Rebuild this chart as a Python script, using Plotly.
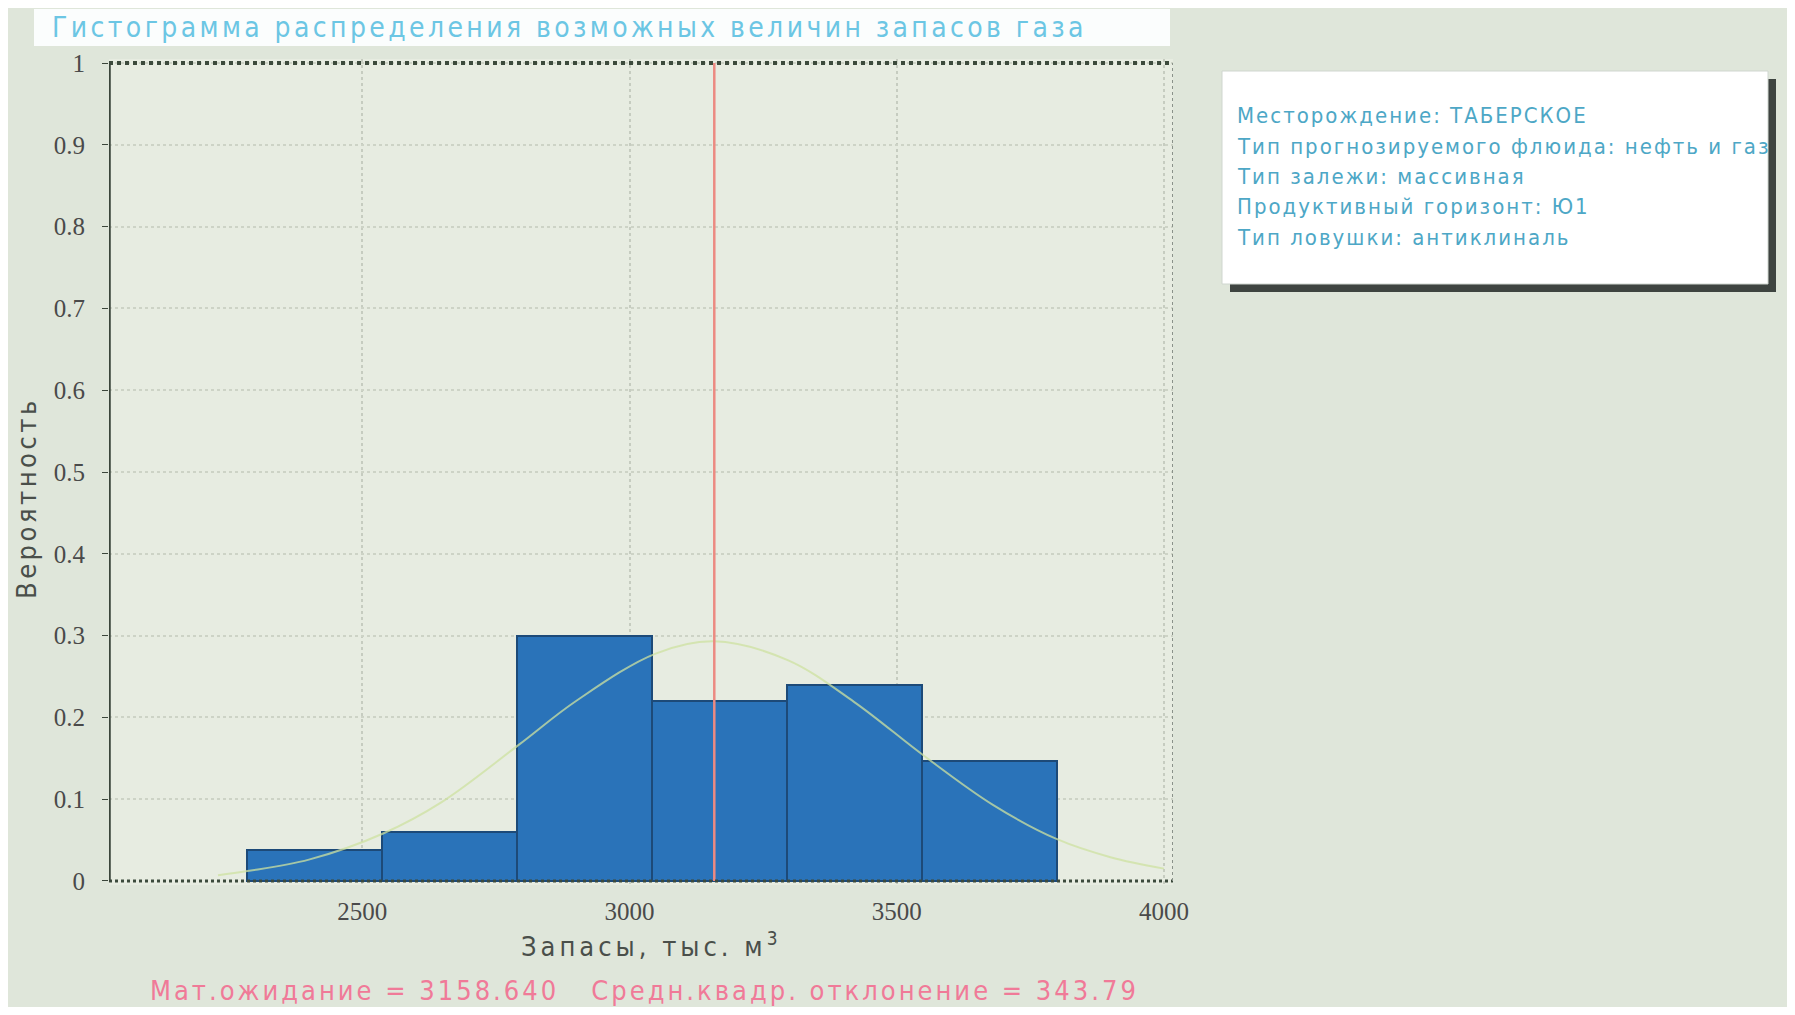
import plotly.graph_objects as go

# ---------------- data ----------------
bin_edges = [2285, 2537, 2790, 3042, 3295, 3547, 3800]
probabilities = [0.038, 0.060, 0.300, 0.220, 0.240, 0.147]

curve_x = [2230, 2285, 2400, 2539, 2650, 2792, 2900, 3049, 3158, 3296, 3420, 3551, 3680, 3800, 3900, 4000]
curve_y = [0.007, 0.012, 0.026, 0.058, 0.097, 0.166, 0.220, 0.278, 0.293, 0.270, 0.219, 0.153, 0.093, 0.051, 0.029, 0.015]

mean_value = 3158.640
std_value = 343.79

x_ticks = [2500, 3000, 3500, 4000]
y_ticks = [0, 0.1, 0.2, 0.3, 0.4, 0.5, 0.6, 0.7, 0.8, 0.9, 1]
y_tick_labels = ["0", "0.1", "0.2", "0.3", "0.4", "0.5", "0.6", "0.7", "0.8", "0.9", "1"]

title_text = "Гистограмма распределения возможных величин запасов газа"
info_lines = [
    "Месторождение: ТАБЕРСКОЕ",
    "Тип прогнозируемого флюида: нефть и газ",
    "Тип залежи: массивная",
    "Продуктивный горизонт: Ю1",
    "Тип ловушки: антиклиналь",
]
x_title = "Запасы, тыс. м<sup>3</sup>"
y_title = "Вероятность"
stats_text = f"Мат.ожидание = {mean_value:.3f}   Средн.квадр. отклонение = {std_value:.2f}"

# ---------------- layout geometry (screen pixels, page has 8px body margin) ----------------
OFF = 8
W, H = 1795 - 2 * OFF, 1015 - 2 * OFF
ML = 109 - OFF
PW = 1064
MR = W - ML - PW
MT = 59 - OFF
PH = 826
MB = H - MT - PH


def px(xs):
    return (xs - OFF - ML) / PW


def py(ys):
    return 1 - (ys - OFF - MT) / PH


def spaced(text, sp):
    return f'<span style="letter-spacing:{sp}px">{text}</span>'


centers = [(a + b) / 2 for a, b in zip(bin_edges[:-1], bin_edges[1:])]
widths = [b - a for a, b in zip(bin_edges[:-1], bin_edges[1:])]

fig = go.Figure()
fig.add_trace(go.Bar(
    x=centers, y=probabilities, width=widths,
    marker=dict(color="#2a73b9", line=dict(color="#1d4a78", width=2)),
    showlegend=False, hoverinfo="skip",
))
fig.add_trace(go.Scatter(
    x=curve_x, y=curve_y, mode="lines", line=dict(color="rgba(205,225,160,0.75)", width=2, shape="spline"),
    showlegend=False, hoverinfo="skip",
))
fig.add_trace(go.Scatter(
    x=[mean_value, mean_value], y=[0, 1], mode="lines",
    line=dict(color="#ec8a82", width=2.5), showlegend=False, hoverinfo="skip",
))

shapes = []
shapes.append(dict(type="line", xref="x", yref="y", x0=2026, x1=4017, y0=1, y1=1,
                   line=dict(color="#3c4a3c", width=4, dash="dot")))
shapes.append(dict(type="line", xref="x", yref="y", x0=2026, x1=4017, y0=0, y1=0,
                   line=dict(color="#3c4a3c", width=3, dash="dot")))
shapes.append(dict(type="line", xref="x", yref="y", x0=2026, x1=2026, y0=0, y1=1,
                   line=dict(color="#3a453a", width=3.5)))
shapes.append(dict(type="line", xref="x", yref="y", x0=4017, x1=4017, y0=0, y1=1,
                   line=dict(color="#8a928a", width=2, dash="dot")))
# title box
shapes.append(dict(type="rect", xref="paper", yref="paper", x0=px(34), x1=px(1170), y0=py(46), y1=py(9),
                   fillcolor="#fbfdfd", line=dict(width=0), layer="below"))
# info box shadow + box
shapes.append(dict(type="rect", xref="paper", yref="paper", x0=px(1230), x1=px(1776), y0=py(292), y1=py(79),
                   fillcolor="#3e4440", line=dict(width=0), layer="below"))
shapes.append(dict(type="rect", xref="paper", yref="paper", x0=px(1222), x1=px(1768), y0=py(284), y1=py(71),
                   fillcolor="#ffffff", line=dict(color="#cfd6cf", width=1), layer="below"))

annotations = []
annotations.append(dict(text=spaced(title_text, 3.4), xref="paper", yref="paper", x=px(50), y=py(28),
                        xanchor="left", yanchor="middle", showarrow=False,
                        font=dict(family="DejaVu Sans Condensed, DejaVu Sans", size=28, color="#6cc6e4")))
for i, line in enumerate(info_lines):
    annotations.append(dict(text=spaced(line, 2.0), xref="paper", yref="paper", x=px(1235), y=py(116 + 30.3 * i),
                            xanchor="left", yanchor="middle", showarrow=False,
                            font=dict(family="DejaVu Sans Condensed, DejaVu Sans", size=22, color="#4da7c6")))
annotations.append(dict(text=spaced(stats_text, 3.0), xref="paper", yref="paper", x=px(644), y=py(990),
                        xanchor="center", yanchor="middle", showarrow=False,
                        font=dict(family="DejaVu Sans Condensed, DejaVu Sans", size=27, color="#f07a98")))
annotations.append(dict(text=spaced(x_title, 4), xref="paper", yref="paper", x=px(651), y=py(944),
                        xanchor="center", yanchor="middle", showarrow=False,
                        font=dict(family="DejaVu Sans Condensed, DejaVu Sans", size=27, color="#4a4f4a")))
annotations.append(dict(text=spaced(y_title, 3.5), xref="paper", yref="paper", x=px(26), y=py(498),
                        xanchor="center", yanchor="middle", showarrow=False, textangle=-90,
                        font=dict(family="DejaVu Sans Condensed, DejaVu Sans", size=27, color="#4a4f4a")))

fig.update_layout(
    width=W, height=H,
    margin=dict(l=ML, r=MR, t=MT, b=MB, pad=0),
    paper_bgcolor="#dfe6da",
    plot_bgcolor="#e7ece1",
    shapes=shapes,
    annotations=annotations,
    bargap=0,
    xaxis=dict(range=[2026, 4017], tickvals=x_ticks, ticktext=[str(v) for v in x_ticks],
               showgrid=True, gridcolor="#c6ccc0", griddash="dot", gridwidth=1.5,
               zeroline=False, showline=False, ticks="", ticklabelstandoff=9,
               tickfont=dict(family="Liberation Serif", size=25, color="#4a4a4a")),
    yaxis=dict(range=[-0.005, 1.005], tickvals=y_ticks, ticktext=y_tick_labels,
               showgrid=True, gridcolor="#cdd3c6", griddash="dot", gridwidth=1.5,
               zeroline=False, showline=False, ticks="outside", ticklen=6, tickcolor="#3a453a",
               ticklabelstandoff=12,
               tickfont=dict(family="Liberation Serif", size=25, color="#4a4a4a")),
)

fig.write_html("out.html")
